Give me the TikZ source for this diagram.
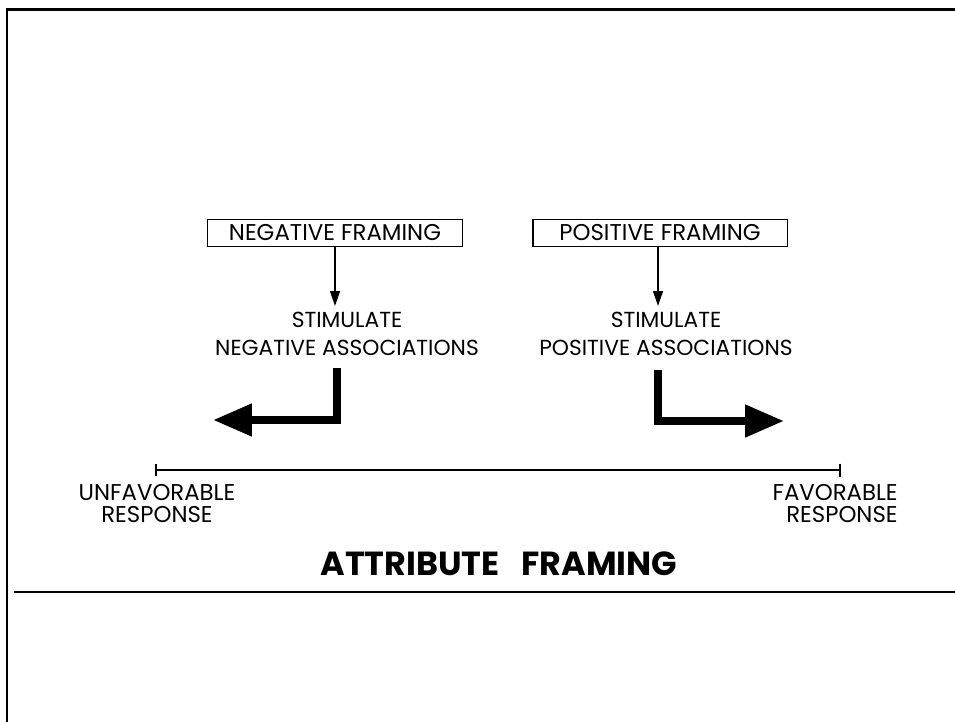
\documentclass[tikz,border=0pt]{standalone}
\usepackage{fontspec}
\setmainfont{Poppins}
\usetikzlibrary{arrows.meta, positioning}
\tikzset{
  frameline/.style={line width=1.7pt,black},
  framebox/.style={draw=black,line width=1.1pt,minimum width=5.1cm,minimum height=0.54cm,inner sep=0pt,font=\fontsize{13}{14}\selectfont},
  stimtext/.style={align=center,inner sep=0pt,font=\fontsize{12.4}{15.9}\selectfont},
  endtext/.style={inner sep=0pt,font=\fontsize{13}{12.5}\selectfont},
  thinarrow/.style={-{Triangle[length=0.3cm,width=0.2cm]},line width=0.8pt},
  bentarrow/.style={-{Triangle[length=0.78cm,width=0.62cm]},line width=4.5pt},
  scaleline/.style={{Bar[width=0.24cm]}-{Bar[width=0.26cm]},line width=1.1pt},
}

\begin{document}
\begin{tikzpicture}[x=0.02cm,y=-0.02cm]
  \useasboundingbox (0,0) rectangle (955,722);
  % outer frame
  \coordinate (fTR) at (955,10);
  \coordinate (fTL) at (7,10);
  \coordinate (fBL) at (7,722);
  \coordinate (sepL) at (14,592);
  \coordinate (sepR) at (955,592);
  \draw[frameline] (fTR) -- (fTL) -- (fBL);
  \draw[frameline] (sepL) -- (sepR);
  % framing boxes
  \node[framebox] (negbox) at (335,233) {NEGATIVE FRAMING};
  \node[framebox] (posbox) at (660,233) {POSITIVE FRAMING};
  \node[stimtext] (negstim) at (347,334) {STIMULATE\\NEGATIVE ASSOCIATIONS};
  \node[stimtext] (posstim) at (666,334) {STIMULATE\\POSITIVE ASSOCIATIONS};
  \coordinate (negtip) at (335,306);
  \coordinate (postip) at (658,306);
  \draw[thinarrow] (negbox.south -| negtip) -- (negtip);
  \draw[thinarrow] (posbox.south -| postip) -- (postip);
  % response arrows
  \coordinate (negtop) at (337,368);
  \coordinate (negend) at (213,420);
  \coordinate (postop) at (658,370);
  \coordinate (posend) at (784,421);
  \draw[bentarrow] (negtop) |- (negend);
  \draw[bentarrow] (postop) |- (posend);
  % response scale
  \coordinate (lo) at (155,470);
  \coordinate (hi) at (841,470);
  \draw[scaleline] (lo) -- (hi);
  \node[endtext,align=center] (unfav) at (157,504) {UNFAVORABLE\\RESPONSE};
  \node[endtext,align=right,anchor=east] (fav) at (898,504) {FAVORABLE\\RESPONSE};
  \node[inner sep=0pt,font=\fontsize{19}{22}\selectfont\bfseries] (title) at (499,564) {ATTRIBUTE\hspace{0.45em} FRAMING};
\end{tikzpicture}
\end{document}
